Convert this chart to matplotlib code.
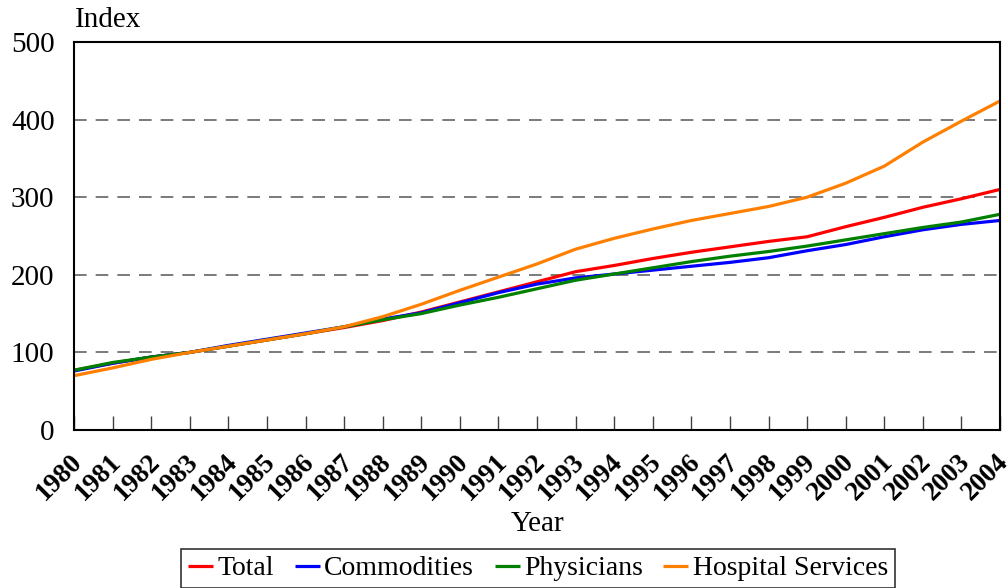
import matplotlib
matplotlib.use("Agg")
import matplotlib.pyplot as plt
import matplotlib.transforms as mtransforms

years = list(range(1980, 2005))
total = [77, 86, 94, 100, 108, 116, 124, 132, 141, 152, 165, 178, 191, 204, 212, 221, 229, 236, 243, 249, 262, 274, 287, 298, 310]
commodities = [76, 86, 94, 100, 109, 117, 125, 133, 143, 151, 164, 177, 188, 196, 201, 206, 211, 216, 222, 231, 239, 249, 258, 265, 270]
physicians = [77, 87, 94, 100, 108, 116, 124, 133, 142, 150, 161, 171, 182, 193, 201, 209, 217, 224, 230, 237, 245, 253, 261, 268, 278]
hospital = [70, 80, 91, 100, 108, 116, 124, 133, 146, 162, 180, 197, 214, 233, 247, 259, 270, 279, 288, 300, 318, 340, 371, 398, 424]

series = [
    ("Total", total, "#FF0000"),
    ("Commodities", commodities, "#0000FF"),
    ("Physicians", physicians, "#008000"),
    ("Hospital Services", hospital, "#FF8000"),
]

plt.rcParams['font.family'] = ['Liberation Serif', 'DejaVu Serif']

fig = plt.figure(figsize=(10.08, 5.88), dpi=100)
ax = fig.add_axes([74/1008, 1 - 430/588, (1000-74)/1008, (430-42)/588])

for name, vals, col in series:
    ax.plot(years, vals, color=col, lw=2.3, label=name, solid_capstyle='butt')

ax.set_xlim(1980, 2004)
ax.set_ylim(0, 500)
ax.set_yticks([0, 100, 200, 300, 400, 500])
ax.set_xticks(years)
for y in [100, 200, 300, 400]:
    ax.axhline(y, color='#707070', lw=1.3, ls=(0, (7, 5)), zorder=0)

ax.tick_params(axis='y', length=0, pad=14, labelsize=21)
ax.tick_params(axis='x', direction='in', length=10, width=1, color='#404040', pad=20, labelsize=19.5)
for lab in ax.get_xticklabels():
    lab.set_rotation(45)
    lab.set_ha('right')
    lab.set_va('center')
    lab.set_rotation_mode('anchor')
    lab.set_fontweight('bold')
    lab.set_transform(lab.get_transform() + mtransforms.ScaledTranslation(5/100, 0, fig.dpi_scale_trans))

for sp in ax.spines.values():
    sp.set_linewidth(1.5)
    sp.set_color('black')

fig.text(75/1008, 1 - 20/588, "Index", fontsize=21, ha='left', va='center')
fig.text(538/1008, 1 - 524/588, "Year", fontsize=21, ha='center', va='center')

leg = fig.legend(loc='upper center', bbox_to_anchor=(538/1008, 1 - 549/588), ncol=4,
                 fontsize=20, frameon=True, fancybox=False, edgecolor='black',
                 handlelength=0.9, handletextpad=0.15, columnspacing=0.75,
                 borderpad=0.25, borderaxespad=0)
leg.get_frame().set_linewidth(1.2)

fig.savefig("out.png", dpi=100)
